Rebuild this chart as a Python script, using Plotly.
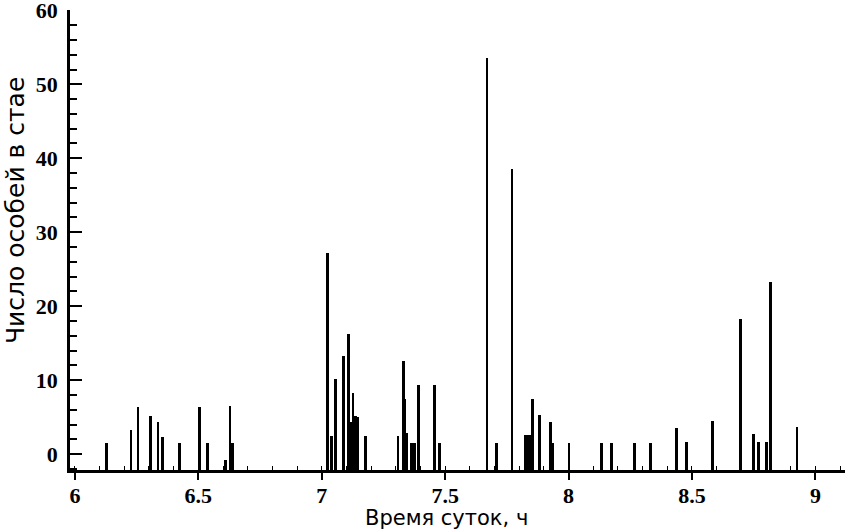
import plotly.graph_objects as go

# time of day (hours) and number of fish in the school
times = [6.128, 6.227, 6.256, 6.307, 6.337, 6.354, 6.425, 6.506, 6.537, 6.610, 6.628, 6.637,
         7.023, 7.037, 7.040, 7.057, 7.087, 7.107, 7.117, 7.127, 7.138, 7.145, 7.177,
         7.309, 7.330, 7.337, 7.343, 7.365, 7.371, 7.377, 7.393, 7.458, 7.478,
         7.670, 7.708, 7.771, 7.823, 7.833, 7.843, 7.854, 7.883, 7.927, 7.935,
         8.002, 8.133, 8.174, 8.268, 8.332, 8.437, 8.477,
         8.583, 8.697, 8.750, 8.769, 8.801, 8.818, 8.925]
counts = [1.5, 3.2, 6.4, 5.2, 4.3, 2.3, 1.5, 6.4, 1.5, -0.8, 6.5, 1.5,
          27.2, 2.3, 2.5, 10.2, 13.3, 16.2, 4.3, 8.3, 5.2, 5.0, 2.5,
          2.5, 12.6, 7.5, 2.8, 1.5, 1.5, 1.5, 9.3, 9.3, 1.5,
          53.6, 1.5, 38.5, 2.6, 2.6, 2.6, 7.4, 5.3, 4.3, 1.5,
          1.5, 1.5, 1.5, 1.5, 1.5, 3.5, 1.7,
          4.5, 18.3, 2.7, 1.7, 1.7, 23.3, 3.7]

y_tick_vals = [0, 10, 20, 30, 40, 50, 60]
x_tick_vals = [6, 6.5, 7, 7.5, 8, 8.5, 9]
x_tick_text = ["6", "6.5", "7", "7.5", "8", "8.5", "9"]

BASE = -2.15

fig = go.Figure(go.Bar(
    x=times,
    y=[c - BASE for c in counts],
    base=BASE,
    width=0.011,
    marker=dict(color="black", line=dict(width=0)),
))

tick_font = dict(family="Liberation Serif", size=22, color="black", weight="bold")
title_font = "DejaVu Sans"

fig.update_layout(
    width=845, height=532,
    margin=dict(l=70, r=0, t=10, b=62),
    plot_bgcolor="white", paper_bgcolor="white",
    showlegend=False,
    bargap=0,
)
fig.update_xaxes(
    range=[5.98, 9.12],
    tickvals=x_tick_vals, ticktext=x_tick_text,
    ticks="outside", ticklen=7, tickwidth=2, tickcolor="black",
    minor=dict(dtick=0.1, ticks="inside", ticklen=4, tickwidth=1, tickcolor="black"),
    showline=True, linewidth=2.5, linecolor="black",
    showgrid=False, zeroline=False,
    tickfont=tick_font, ticklabelstandoff=-3,
    automargin=False,
)
fig.update_yaxes(
    range=[BASE, 60.05],
    tickvals=y_tick_vals,
    ticks="inside", ticklen=12, tickwidth=2, tickcolor="black",
    minor=dict(dtick=2, ticks="inside", ticklen=7, tickwidth=1.5, tickcolor="black"),
    showline=True, linewidth=2.5, linecolor="black",
    showgrid=False, zeroline=False,
    tickfont=tick_font, ticklabelstandoff=5, ticklabeloverflow="allow",
    automargin=False,
)

# axis titles
fig.add_annotation(text="Время суток, ч", xref="paper", yref="paper", x=0.486, y=-0.104,
                   xanchor="center", yanchor="middle", showarrow=False,
                   font=dict(family=title_font, size=21, color="black"))
fig.add_annotation(text="Число особей в стае", xref="paper", yref="paper", x=-0.071, y=0.565,
                   xanchor="center", yanchor="middle", showarrow=False, textangle=-90,
                   font=dict(family=title_font, size=25, color="black"))

fig.write_html("out.html", config={"displayModeBar": False},
               post_script="document.body.style.margin='0px';")
